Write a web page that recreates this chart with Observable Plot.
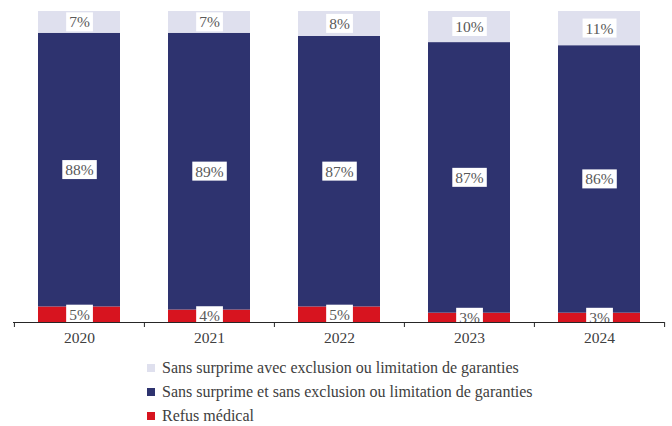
<!DOCTYPE html>
<html>
<head>
<meta charset="utf-8">
<script src="https://cdn.jsdelivr.net/npm/d3@7"></script>
<script src="https://cdn.jsdelivr.net/npm/@observablehq/plot@0.6"></script>
<style>
  body { margin: 0; background: #fff; font-family: "Liberation Serif", "Times New Roman", serif; }
  #chart { position: relative; width: 672px; }
  .legend { margin-left: 147px; margin-top: 4px; color: #404040; font-size: 16px; }
  .legend .item { display: flex; align-items: center; height: 24px; }
  .legend .sw { width: 8px; height: 8px; margin-right: 7px; }
</style>
</head>
<body>
<div id="chart"></div>
<script>
const years = ["2020", "2021", "2022", "2023", "2024"];
const series = [
  "Refus médical",
  "Sans surprime et sans exclusion ou limitation de garanties",
  "Sans surprime avec exclusion ou limitation de garanties"
];
const refus = [5, 4, 5, 3, 3];
const sansExclusion = [88, 89, 87, 87, 86];
const avecExclusion = [7, 7, 8, 10, 11];
const colors = ["#d7141f", "#2e336f", "#dfe0ee"];

const values = [refus, sansExclusion, avecExclusion];
const data = [];
years.forEach((y, i) => {
  series.forEach((s, k) => data.push({year: y, serie: s, value: values[k][i]}));
});

const W = 672, H = 352, mL = 13, mR = 8, mT = 11, mB = 30;
const step = (W - mL - mR) / years.length;

const stackOpts = {x: "year", y: "value", z: "serie", order: series};

const chart = Plot.plot({
  width: W, height: H,
  marginLeft: mL, marginRight: mR, marginTop: mT, marginBottom: mB,
  style: {fontFamily: "'Liberation Serif', 'Times New Roman', serif", background: "#fff"},
  x: {domain: years, paddingInner: 0.37, paddingOuter: 0.185, label: null},
  y: {domain: [0, 100], axis: null},
  color: {domain: series, range: colors},
  marks: [
    Plot.barY(data, Plot.stackY({...stackOpts, fill: "serie"})),
    Plot.text(data, Plot.stackY({...stackOpts, y: "value", text: d => d.value + "%", fill: "#595959", fontSize: 15.5, className: "seglabel"})),
    Plot.ruleY([0], {stroke: "#262626", strokeWidth: 1}),
    Plot.ruleX(years, {x: d => d, dx: -step / 2, y1: 0, y2: 0, insetBottom: -5, stroke: "#262626"}),
    Plot.ruleX([years[years.length - 1]], {x: d => d, dx: step / 2, y1: 0, y2: 0, insetBottom: -5, stroke: "#262626"}),
    Plot.axisX({tickSize: 0, tickPadding: 9, fontSize: 15.5, fill: "#404040", label: null})
  ]
});
document.getElementById("chart").appendChild(chart);

// white boxes behind segment labels
chart.querySelectorAll("g.seglabel text, g[aria-label='text'] text").forEach(t => {
  const b = t.getBBox();
  const r = document.createElementNS("http://www.w3.org/2000/svg", "rect");
  const padX = 3, padY = 1;
  r.setAttribute("x", b.x - padX);
  r.setAttribute("y", b.y - padY);
  r.setAttribute("width", b.width + 2 * padX);
  r.setAttribute("height", b.height + 2 * padY);
  r.setAttribute("fill", "#fff");
  const tr = t.getAttribute("transform");
  if (tr) r.setAttribute("transform", tr);
  t.parentNode.insertBefore(r, t);
});

// legend (top to bottom, reversed stacking order)
const legend = document.createElement("div");
legend.className = "legend";
[...series].reverse().forEach(s => {
  const item = document.createElement("div");
  item.className = "item";
  const sw = document.createElement("span");
  sw.className = "sw";
  sw.style.background = colors[series.indexOf(s)];
  const lab = document.createElement("span");
  lab.textContent = s;
  item.appendChild(sw); item.appendChild(lab);
  legend.appendChild(item);
});
document.getElementById("chart").appendChild(legend);
</script>
</body>
</html>
